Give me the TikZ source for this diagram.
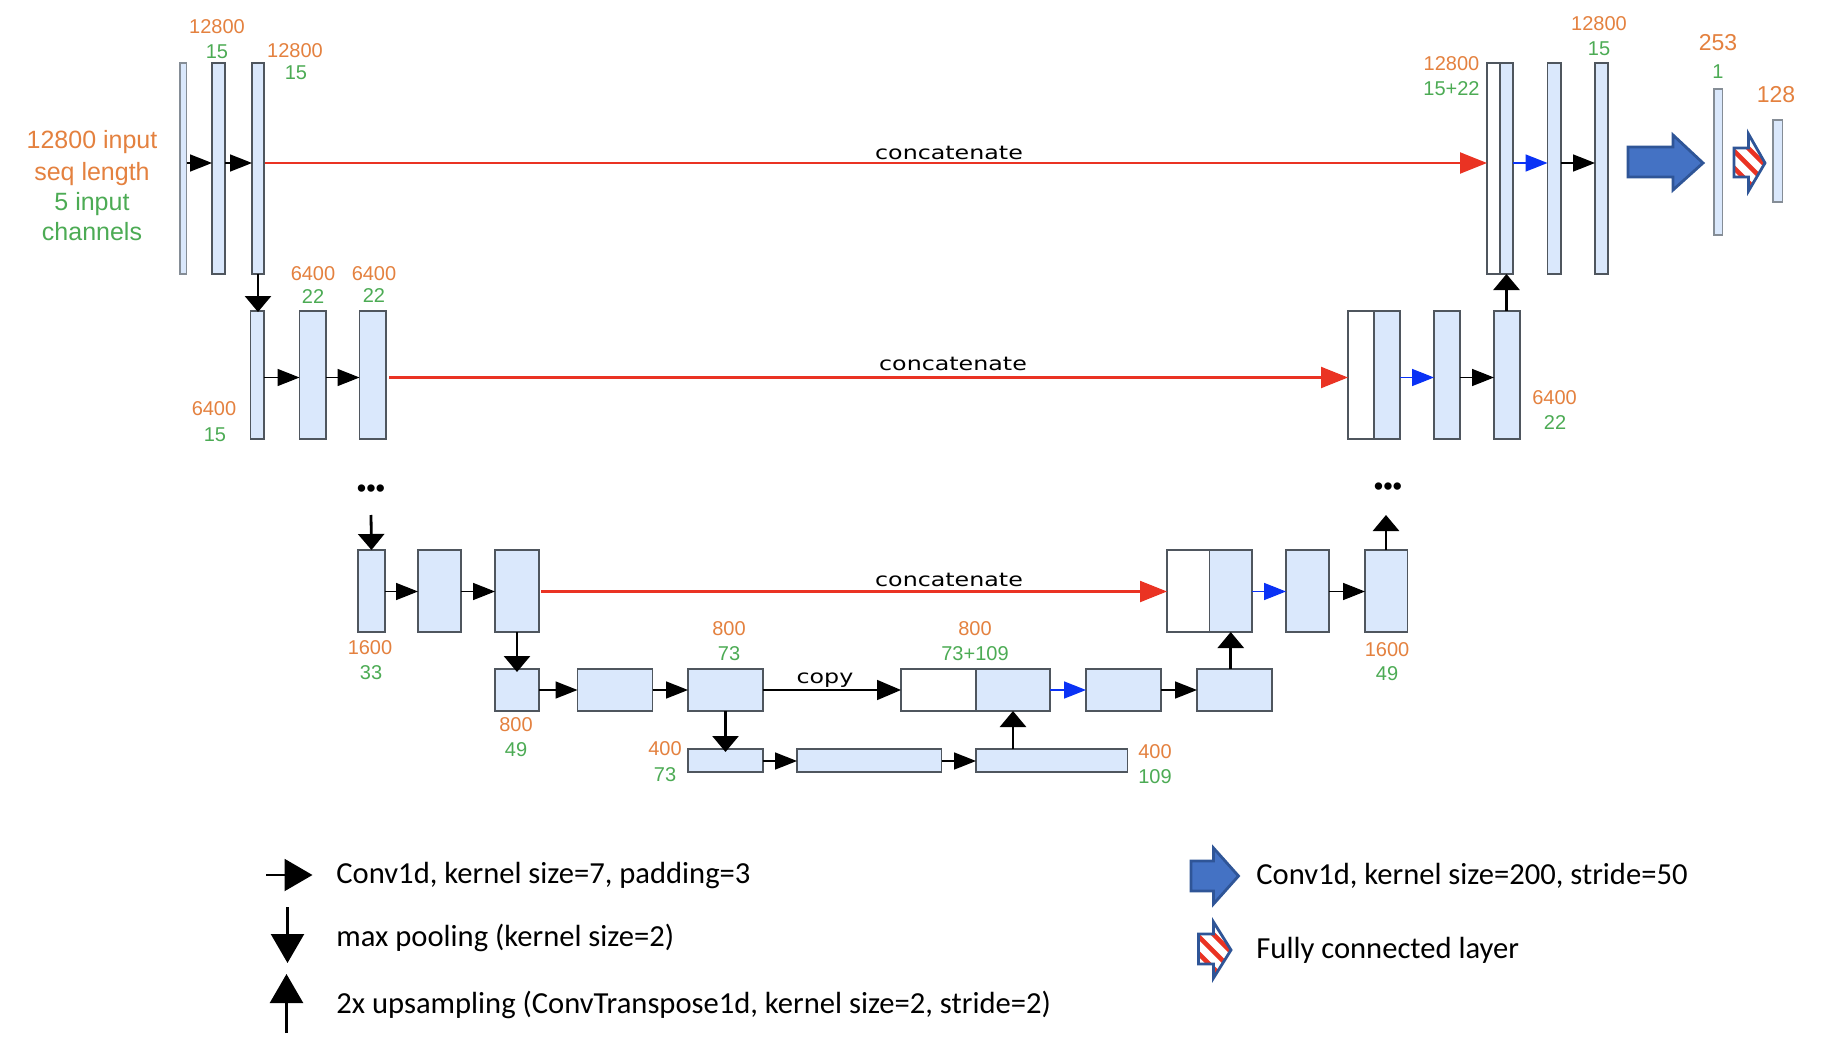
\documentclass[tikz,border=0pt]{standalone}
\usepackage{fontspec}
\setmainfont{Liberation Sans}
\newfontfamily\legendfont{Carlito}
\newfontfamily\widefont[FakeStretch=1.25]{DejaVu Sans}
\usetikzlibrary{arrows.meta}
\definecolor{boxblue}{HTML}{DAE8FC}
\definecolor{boxedge}{HTML}{4F565E}
\definecolor{thinedge}{HTML}{858D96}
\definecolor{lblorange}{HTML}{E4813F}
\definecolor{lblgreen}{HTML}{4CAB54}
\definecolor{redline}{HTML}{EA3323}
\definecolor{blueline}{HTML}{0A32F5}
\definecolor{bigfill}{HTML}{4472C4}
\definecolor{bigedge}{HTML}{2F5597}
\tikzset{
  cell/.style={draw=boxedge,line width=0.9pt,fill=boxblue,inner sep=0pt,outer sep=0pt},
  thincell/.style={cell,draw=thinedge,line width=0.6pt},
  whitecell/.style={cell,fill=white},
  convarrow/.style={black,line width=0.85pt,-{Triangle[length=11pt,width=8.5pt]}},
  bluearrow/.style={blueline,line width=0.85pt,-{Triangle[length=11pt,width=8.5pt]}},
  redarrow/.style={redline,line width=1.1pt,-{Triangle[length=13.5pt,width=10.5pt]}},
  copyarrow/.style={black,line width=0.85pt,-{Triangle[length=12pt,width=10pt]}},
  vertarrow/.style={black,line width=1.4pt,-{Triangle[length=8pt,width=13pt]}},
  legendconv/.style={black,line width=1pt,-{Triangle[length=14pt,width=16pt]}},
  legendvert/.style={black,line width=1.2pt,-{Triangle[length=14.5pt,width=16.5pt]}},
  or/.style={text=lblorange,inner sep=0pt,font=\fontsize{10}{12}\selectfont},
  gr/.style={text=lblgreen,inner sep=0pt,font=\fontsize{10}{12}\selectfont},
  orbig/.style={or,font=\fontsize{11.5}{14}\selectfont},
  inorange/.style={text=lblorange,inner sep=0pt,font=\fontsize{12.5}{15}\selectfont},
  ingreen/.style={text=lblgreen,inner sep=0pt,font=\fontsize{12.5}{15}\selectfont},
  blacklabel/.style={text=black,inner sep=0pt,font=\widefont\fontsize{9.5}{11}\selectfont},
  dotsnode/.style={text=black,inner sep=0pt,anchor=base,font=\fontsize{13.5}{16}\selectfont},
  legendtext/.style={text=black,inner sep=0pt,anchor=west,font=\legendfont\fontsize{15.3}{18}\selectfont},
  bigshape/.style={draw=bigedge,line width=1.4pt,fill=bigfill,line join=miter},
  fcoutline/.style={draw=bigedge,line width=1.4pt,line join=miter},
  fcstripe/.style={redline,line width=2.3pt}
}
% name, x1, y1, x2, y2, style
\newcommand{\bx}[6]{\node[#6,minimum width={(#4-(#2))*0.5pt},minimum height={(#5-(#3))*0.5pt}] (#1) at ({(#2+#4)/2},{(#3+#5)/2}) {};}
% x-start, x-shaft-end, x-tip, y-shaft-top, y-shaft-bottom, y-head-top, y-head-bottom, y-tip
\newcommand{\blockpath}[8]{(#1,#4) -- (#2,#4) -- (#2,#6) -- (#3,#8) -- (#2,#7) -- (#2,#5) -- (#1,#5) -- cycle}
\newcommand{\fcarrow}[8]{%
  \begin{scope}
    \clip \blockpath{#1}{#2}{#3}{#4}{#5}{#6}{#7}{#8};
    \fill[white] \blockpath{#1}{#2}{#3}{#4}{#5}{#6}{#7}{#8};
    \foreach \o in {-32,-15,2,19,36,53} {
      \draw[fcstripe] ({#3-80},{#8+\o-80}) -- ({#3+10},{#8+\o+10});
    }
  \end{scope}
  \draw[fcoutline] \blockpath{#1}{#2}{#3}{#4}{#5}{#6}{#7}{#8};
}
\begin{document}
\begin{tikzpicture}[x=0.5pt,y=-0.5pt]
\useasboundingbox (0,0) rectangle (1828,1054);
\fill[white] (0,0) rectangle (1828,1054);

% row levels
\coordinate (r1) at (0,163);
\coordinate (r2) at (0,377.5);
\coordinate (r3) at (0,591.5);
\coordinate (r4) at (0,690);
\coordinate (r5) at (0,761);

% row 1
\bx{a1}{180}{63}{186.5}{274}{thincell}
\bx{a2}{212}{63}{225}{274}{cell}
\bx{a3}{252}{63}{264}{274}{cell}
\bx{rw}{1487}{63}{1500}{274}{whitecell}
\bx{rb}{1500}{63}{1513}{274}{cell}
\bx{r2b}{1547.5}{63}{1561}{274}{cell}
\bx{r3b}{1595}{63}{1608}{274}{cell}
\bx{o1}{1714}{89}{1722.5}{235}{thincell}
\bx{o2}{1773}{120}{1782.5}{202}{thincell}

% row 2
\bx{b1}{250.5}{311}{264}{439}{cell}
\bx{b2}{299.5}{311}{326}{439}{cell}
\bx{b3}{359.5}{311}{386}{439}{cell}
\bx{cw}{1348}{311}{1374}{439}{whitecell}
\bx{cb}{1374}{311}{1400}{439}{cell}
\bx{c2}{1434}{311}{1460}{439}{cell}
\bx{c3}{1494}{311}{1520}{439}{cell}

% row 3
\bx{d1}{358}{550}{385}{632}{cell}
\bx{d2}{418}{550}{461}{632}{cell}
\bx{d3}{495}{550}{539}{632}{cell}
\bx{ew}{1167}{550}{1209.5}{632}{whitecell}
\bx{eb}{1209.5}{550}{1252}{632}{cell}
\bx{e2}{1286}{550}{1329}{632}{cell}
\bx{e3}{1365}{550}{1407.5}{632}{cell}

% row 4
\bx{f1}{495}{669}{539}{711}{cell}
\bx{f2}{577.5}{669}{652.5}{711}{cell}
\bx{f3}{688}{669}{763}{711}{cell}
\bx{gw}{901}{669}{976}{711}{whitecell}
\bx{gb}{976}{669}{1050}{711}{cell}
\bx{g2}{1086}{669}{1161}{711}{cell}
\bx{g3}{1197}{669}{1272}{711}{cell}

% row 5
\bx{h1}{688}{749}{763}{772}{cell}
\bx{h2}{797}{749}{941.5}{772}{cell}
\bx{h3}{976}{749}{1127.5}{772}{cell}

% dots and their free arrow ends
\node[dotsnode] (dl) at (371,497) {•••};
\node[dotsnode] (dr) at (1388,495) {•••};
\coordinate (dlend) at (371,515);
\coordinate (drend) at (1386,515);

% horizontal conv arrows
\draw[convarrow] (a1.east |- r1) -- (a2.west |- r1);
\draw[convarrow] (a2.east |- r1) -- (a3.west |- r1);
\draw[bluearrow] (rb.east |- r1) -- (r2b.west |- r1);
\draw[convarrow] (r2b.east |- r1) -- (r3b.west |- r1);
\draw[convarrow] (b1.east |- r2) -- (b2.west |- r2);
\draw[convarrow] (b2.east |- r2) -- (b3.west |- r2);
\draw[bluearrow] (cb.east |- r2) -- (c2.west |- r2);
\draw[convarrow] (c2.east |- r2) -- (c3.west |- r2);
\draw[convarrow] (d1.east |- r3) -- (d2.west |- r3);
\draw[convarrow] (d2.east |- r3) -- (d3.west |- r3);
\draw[bluearrow] (eb.east |- r3) -- (e2.west |- r3);
\draw[convarrow] (e2.east |- r3) -- (e3.west |- r3);
\draw[convarrow] (f1.east |- r4) -- (f2.west |- r4);
\draw[convarrow] (f2.east |- r4) -- (f3.west |- r4);
\draw[bluearrow] (gb.east |- r4) -- (g2.west |- r4);
\draw[convarrow] (g2.east |- r4) -- (g3.west |- r4);
\draw[convarrow] (h1.east |- r5) -- (h2.west |- r5);
\draw[convarrow] (h2.east |- r5) -- (h3.west |- r5);

% red concatenation arrows and copy
\draw[redarrow] ([xshift=0.5pt]a3.east |- r1) -- (rw.west |- r1);
\draw[redarrow] ([xshift=1.5pt]b3.east |- r2) -- (cw.west |- r2);
\draw[redarrow] ([xshift=1pt]d3.east |- r3) -- (ew.west |- r3);
\draw[copyarrow] (f3.east |- r4) -- (gw.west |- r4);

% vertical arrows
\draw[vertarrow] (a3.south) -- ([yshift=-0.5pt]b1.north -| a3.south);
\draw[vertarrow] (dlend) -- (d1.north);
\draw[vertarrow] (d3.south) -- ([yshift=-1.5pt]f1.north);
\draw[vertarrow] (f3.south) -- ([yshift=-1.5pt]h1.north);
\draw[vertarrow] (c3.north -| rb.south) -- (rb.south);
\draw[vertarrow] (e3.north -| drend) -- (drend);
\draw[vertarrow] (g3.north -| eb.south) -- (eb.south);
\draw[vertarrow] (h3.north -| gb.south) -- (gb.south);

% output arrows
\draw[bigshape] \blockpath{1628}{1673}{1703}{147}{177}{135}{190}{163};
\fcarrow{1734}{1748.5}{1765}{148}{177}{134}{191}{163}

% labels
\node[inorange] (t1) at (92,142.5) {12800 input};
\node[inorange] (t2) at (92,174.5) {seq length};
\node[ingreen] (t3) at (92,204) {5 input};
\node[ingreen] (t4) at (92,232) {channels};

\node[or] (l1) at (217,27) {12800};
\node[gr] (l2) at (217,52) {15};
\node[or] (l3) at (295,51) {12800};
\node[gr] (l4) at (296,73) {15};
\node[or] (l5) at (313,274) {6400};
\node[gr] (l6) at (313,297) {22};
\node[or] (l7) at (374,274) {6400};
\node[gr] (l8) at (374,296) {22};
\node[or] (l9) at (214,409) {6400};
\node[gr] (l10) at (215,435) {15};

\node[or] (l11) at (1451.5,64) {12800};
\node[gr] (l12) at (1451.5,89) {15+22};
\node[or] (l13) at (1599,24) {12800};
\node[gr] (l14) at (1599,49) {15};
\node[orbig] (l15) at (1718,43) {253};
\node[gr] (l16) at (1718,72) {1};
\node[orbig] (l17) at (1776,95) {128};
\node[or] (l18) at (1554.5,398) {6400};
\node[gr] (l19) at (1555,423) {22};

\node[or] (l20) at (370,648) {1600};
\node[gr] (l21) at (371,673) {33};
\node[or] (l22) at (729,629) {800};
\node[gr] (l23) at (729,654) {73};
\node[or] (l24) at (516,725) {800};
\node[gr] (l25) at (516,750) {49};
\node[or] (l26) at (665,749) {400};
\node[gr] (l27) at (665,775) {73};
\node[or] (l28) at (975,629) {800};
\node[gr] (l29) at (975,654) {73+109};
\node[or] (l30) at (1155,752) {400};
\node[gr] (l31) at (1155,777) {109};
\node[or] (l32) at (1387,650) {1600};
\node[gr] (l33) at (1387,674) {49};

\node[blacklabel] (c1) at (949,153) {concatenate};
\node[blacklabel] (c2l) at (953,364) {concatenate};
\node[blacklabel] (c3l) at (949,580) {concatenate};
\node[blacklabel] (c4l) at (825,680) {copy};

% legend
\coordinate (lg1a) at (266,875);
\coordinate (lg1b) at (312.5,875);
\coordinate (lg2a) at (287.5,907);
\coordinate (lg2b) at (287.5,963);
\coordinate (lg3a) at (286.5,1033);
\coordinate (lg3b) at (286.5,974);
\draw[legendconv] (lg1a) -- (lg1b);
\draw[legendvert] (lg2a) -- (lg2b);
\draw[legendvert] (lg3a) -- (lg3b);
\node[legendtext] (n1) at (336,876) {Conv1d, kernel size=7, padding=3};
\node[legendtext] (n2) at (336,938) {max pooling (kernel size=2)};
\node[legendtext] (n3) at (336,1005) {2x upsampling (ConvTranspose1d, kernel size=2, stride=2)};
\draw[bigshape] \blockpath{1191}{1213.5}{1238.5}{861}{891}{848}{904}{876};
\fcarrow{1198.5}{1213.5}{1231}{934}{964}{922}{978}{950}
\node[legendtext] (n4) at (1256,876) {Conv1d, kernel size=200, stride=50};
\node[legendtext] (n5) at (1256,950) {Fully connected layer};
\end{tikzpicture}
\end{document}
